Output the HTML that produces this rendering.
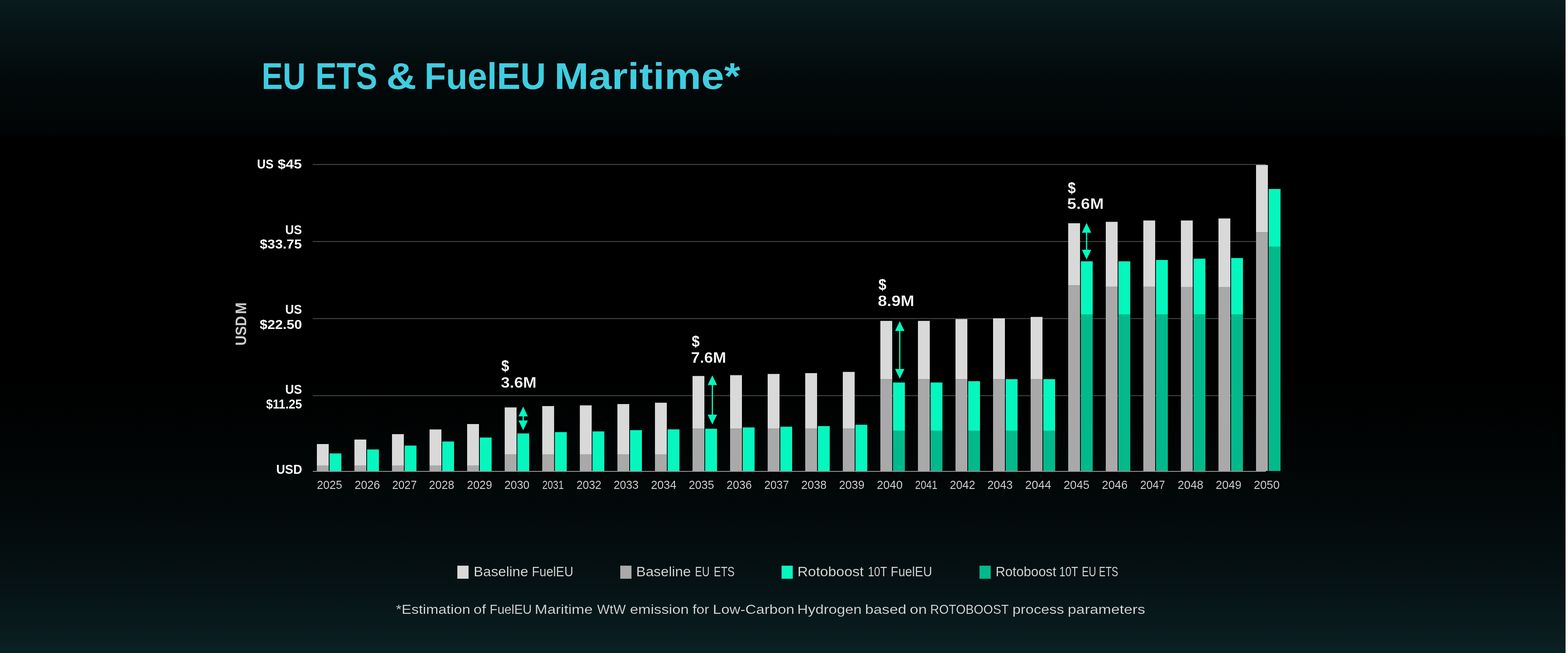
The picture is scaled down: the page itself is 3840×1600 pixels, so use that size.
<!DOCTYPE html>
<html lang="en">
<head>
<meta charset="utf-8">
<title>EU ETS &amp; FuelEU Maritime</title>
<style>
html, body { margin: 0; padding: 0; background: #000; }
body { width: 3840px; height: 1600px; overflow: hidden; position: relative;
       font-family: "Liberation Sans", sans-serif; }
.band-top { position: absolute; left: 0; top: 0; width: 3840px; height: 332px;
            background: linear-gradient(180deg, rgb(8,27,30) 0px, rgb(6,20,22) 75px, rgb(3,10,11) 186px, rgb(1,4,5) 332px); }
.band-main { position: absolute; left: 0; top: 332px; width: 3840px; height: 1268px;
             background: linear-gradient(180deg, #000 0px, #000 600px, rgb(2,7,8) 871px, rgb(5,16,18) 1065px, rgb(9,27,30) 1214px, rgb(10,33,35) 1268px); }
.edge { position: absolute; left: 3834px; top: 0; width: 6px; height: 1600px; background: #fff; }
svg { position: absolute; left: 0; top: 0; display: block; }
svg text { font-family: "Liberation Sans", sans-serif; }
</style>
</head>
<body>
<div class="band-top"></div>
<div class="band-main"></div>
<div class="edge"></div>
<svg width="3840" height="1600" viewBox="0 0 3840 1600" role="img" aria-label="EU ETS and FuelEU Maritime cost chart">
<g class="title" fill="#40cde0" font-size="91.5" font-weight="700">
  <text><tspan x="640.71" y="218" textLength="107.72" lengthAdjust="spacingAndGlyphs">EU</tspan> <tspan x="772.44" y="218" textLength="151.44" lengthAdjust="spacingAndGlyphs">ETS</tspan> <tspan x="945.91" y="218" textLength="73.87" lengthAdjust="spacingAndGlyphs">&amp;</tspan> <tspan x="1039.39" y="218" textLength="297.55" lengthAdjust="spacingAndGlyphs">FuelEU</tspan> <tspan x="1357.42" y="218" textLength="455.49" lengthAdjust="spacingAndGlyphs">Maritime*</tspan></text>
</g>
<g class="grid" fill="#4d4d4d">
  <rect x="766" y="402" width="2334" height="2"/>
  <rect x="766" y="590.8" width="2334" height="2"/>
  <rect x="766" y="779.6" width="2334" height="2"/>
  <rect x="766" y="968.4" width="2334" height="2"/>
</g>
<g class="baseline-fueleu" fill="#d9d9d9">
  <rect x="776" y="1088" width="29" height="53.3"/>
  <rect x="868" y="1077" width="29" height="64.3"/>
  <rect x="960" y="1063.75" width="29" height="77.55"/>
  <rect x="1052" y="1052.25" width="29" height="89.05"/>
  <rect x="1144" y="1039" width="29" height="102.3"/>
  <rect x="1236" y="998.25" width="29" height="114.75"/>
  <rect x="1328" y="995" width="29" height="118"/>
  <rect x="1420" y="993.25" width="29" height="119.75"/>
  <rect x="1512" y="990" width="29" height="123"/>
  <rect x="1604" y="986.75" width="29" height="126.25"/>
  <rect x="1696" y="921.25" width="29" height="129.25"/>
  <rect x="1788" y="919.25" width="29" height="131.25"/>
  <rect x="1880" y="916.25" width="29" height="134.25"/>
  <rect x="1972" y="914.25" width="29" height="136.25"/>
  <rect x="2064" y="911.25" width="29" height="139.25"/>
  <rect x="2156" y="786.25" width="29" height="143"/>
  <rect x="2248" y="786.25" width="29" height="143"/>
  <rect x="2340" y="781.75" width="29" height="147.5"/>
  <rect x="2432" y="780" width="29" height="149.25"/>
  <rect x="2524" y="776.5" width="29" height="152.75"/>
  <rect x="2616" y="547" width="29" height="152.25"/>
  <rect x="2708" y="543.5" width="29" height="158.5"/>
  <rect x="2800" y="540.25" width="29" height="161.75"/>
  <rect x="2892" y="540.25" width="29" height="162.75"/>
  <rect x="2984" y="535.25" width="29" height="167.75"/>
  <rect x="3076" y="404.25" width="29" height="165"/>
</g>
<g class="baseline-ets" fill="#a9a9a9">
  <rect x="776" y="1140.3" width="29" height="13.7"/>
  <rect x="868" y="1140.3" width="29" height="13.7"/>
  <rect x="960" y="1140.3" width="29" height="13.7"/>
  <rect x="1052" y="1140.3" width="29" height="13.7"/>
  <rect x="1144" y="1140.3" width="29" height="13.7"/>
  <rect x="1236" y="1113" width="29" height="41"/>
  <rect x="1328" y="1113" width="29" height="41"/>
  <rect x="1420" y="1113" width="29" height="41"/>
  <rect x="1512" y="1113" width="29" height="41"/>
  <rect x="1604" y="1113" width="29" height="41"/>
  <rect x="1696" y="1050.5" width="29" height="103.5"/>
  <rect x="1788" y="1050.5" width="29" height="103.5"/>
  <rect x="1880" y="1050.5" width="29" height="103.5"/>
  <rect x="1972" y="1050.5" width="29" height="103.5"/>
  <rect x="2064" y="1050.5" width="29" height="103.5"/>
  <rect x="2156" y="929.25" width="29" height="224.75"/>
  <rect x="2248" y="929.25" width="29" height="224.75"/>
  <rect x="2340" y="929.25" width="29" height="224.75"/>
  <rect x="2432" y="929.25" width="29" height="224.75"/>
  <rect x="2524" y="929.25" width="29" height="224.75"/>
  <rect x="2616" y="699.25" width="29" height="454.75"/>
  <rect x="2708" y="702" width="29" height="452"/>
  <rect x="2800" y="702" width="29" height="452"/>
  <rect x="2892" y="703" width="29" height="451"/>
  <rect x="2984" y="703" width="29" height="451"/>
  <rect x="3076" y="569.25" width="29" height="584.75"/>
</g>
<g class="roto-fueleu" fill="#06f7be">
  <rect x="807" y="1111" width="29" height="43"/>
  <rect x="899" y="1101.25" width="29" height="52.75"/>
  <rect x="991" y="1091.75" width="29" height="62.25"/>
  <rect x="1083" y="1081.75" width="29" height="72.25"/>
  <rect x="1175" y="1072" width="29" height="82"/>
  <rect x="1267" y="1062" width="29" height="92"/>
  <rect x="1359" y="1058.75" width="29" height="95.25"/>
  <rect x="1451" y="1057" width="29" height="97"/>
  <rect x="1543" y="1054" width="29" height="100"/>
  <rect x="1635" y="1052" width="29" height="102"/>
  <rect x="1727" y="1050.5" width="29" height="103.5"/>
  <rect x="1819" y="1047.25" width="29" height="106.75"/>
  <rect x="1911" y="1045.5" width="29" height="108.5"/>
  <rect x="2003" y="1044" width="29" height="110"/>
  <rect x="2095" y="1040.75" width="29" height="113.25"/>
  <rect x="2187" y="937.25" width="29" height="117.75"/>
  <rect x="2279" y="937.25" width="29" height="117.75"/>
  <rect x="2371" y="934" width="29" height="121"/>
  <rect x="2463" y="929" width="29" height="126"/>
  <rect x="2555" y="929" width="29" height="126"/>
  <rect x="2647" y="640.25" width="29" height="129.75"/>
  <rect x="2739" y="640.25" width="29" height="129.75"/>
  <rect x="2831" y="637" width="29" height="133"/>
  <rect x="2923" y="633.75" width="29" height="136.25"/>
  <rect x="3015" y="632.25" width="29" height="137.75"/>
  <rect x="3107" y="463" width="29" height="141"/>
</g>
<g class="roto-ets" fill="#03b98b">
  <rect x="2187" y="1055" width="29" height="99"/>
  <rect x="2279" y="1055" width="29" height="99"/>
  <rect x="2371" y="1055" width="29" height="99"/>
  <rect x="2463" y="1055" width="29" height="99"/>
  <rect x="2555" y="1055" width="29" height="99"/>
  <rect x="2647" y="770" width="29" height="384"/>
  <rect x="2739" y="770" width="29" height="384"/>
  <rect x="2831" y="770" width="29" height="384"/>
  <rect x="2923" y="770" width="29" height="384"/>
  <rect x="3015" y="770" width="29" height="384"/>
  <rect x="3107" y="604" width="29" height="550"/>
</g>
<rect class="axis" x="766" y="1154" width="2334" height="2" fill="#9a9a9a"/>
<g class="arrows" fill="#06f7be">
  <path d="M1281.25 996.25L1292.75 1020.25H1282.75V1030.25H1292.75L1281.25 1054.25L1269.75 1030.25H1279.75V1020.25H1269.75Z"/>
  <path d="M1744.5 919.5L1756 943.5H1746V1016H1756L1744.5 1040L1733 1016H1743V943.5H1733Z"/>
  <path d="M2203.5 787L2215 811H2205V904H2215L2203.5 928L2192 904H2202V811H2192Z"/>
  <path d="M2661 546.25L2672.5 570.25H2662.5V612H2672.5L2661 636L2649.5 612H2659.5V570.25H2649.5Z"/>
</g>
<g class="ytitle" fill="#cbcbcb"><text transform="translate(603.3 846.65) rotate(-90) scale(0.9487 1)" font-size="36.1" font-weight="700" word-spacing="-5">USD M</text></g>
<g class="yaxis" fill="#ffffff" font-size="31" font-weight="700">
  <text><tspan x="629.45" y="413.25" textLength="40.42" lengthAdjust="spacingAndGlyphs">US</tspan> <tspan x="679.95" y="413.25" textLength="59.18" lengthAdjust="spacingAndGlyphs">$45</tspan></text>
  <text><tspan x="698.43" y="573.75" textLength="40.96" lengthAdjust="spacingAndGlyphs">US</tspan> <tspan x="636.36" y="609.25" textLength="102.82" lengthAdjust="spacingAndGlyphs">$33.75</tspan></text>
  <text><tspan x="698.43" y="769.25" textLength="40.96" lengthAdjust="spacingAndGlyphs">US</tspan> <tspan x="636.11" y="805.5" textLength="103.41" lengthAdjust="spacingAndGlyphs">$22.50</tspan></text>
  <text><tspan x="698.42" y="965" textLength="41.23" lengthAdjust="spacingAndGlyphs">US</tspan> <tspan x="651.66" y="1001.25" textLength="87.91" lengthAdjust="spacingAndGlyphs">$11.25</tspan></text>
  <text><tspan x="676.39" y="1161.25" textLength="63.52" lengthAdjust="spacingAndGlyphs">USD</tspan></text>
</g>
<g class="xaxis" fill="#d9d9d9" font-size="29.6" stroke="#020607" stroke-width="0.2">
  <text><tspan x="775.95" y="1198" textLength="62.2" lengthAdjust="spacingAndGlyphs">2025</tspan></text>
  <text><tspan x="868.45" y="1198" textLength="62.2" lengthAdjust="spacingAndGlyphs">2026</tspan></text>
  <text><tspan x="960.5" y="1198" textLength="60.25" lengthAdjust="spacingAndGlyphs">2027</tspan></text>
  <text><tspan x="1050.46" y="1198" textLength="61.94" lengthAdjust="spacingAndGlyphs">2028</tspan></text>
  <text><tspan x="1143.46" y="1198" textLength="61.82" lengthAdjust="spacingAndGlyphs">2029</tspan></text>
  <text><tspan x="1235.22" y="1198" textLength="61.53" lengthAdjust="spacingAndGlyphs">2030</tspan></text>
  <text><tspan x="1327.92" y="1198" textLength="52.68" lengthAdjust="spacingAndGlyphs">2031</tspan></text>
  <text><tspan x="1411.73" y="1198" textLength="61.04" lengthAdjust="spacingAndGlyphs">2032</tspan></text>
  <text><tspan x="1502.73" y="1198" textLength="61.16" lengthAdjust="spacingAndGlyphs">2033</tspan></text>
  <text><tspan x="1594.2" y="1198" textLength="62.28" lengthAdjust="spacingAndGlyphs">2034</tspan></text>
  <text><tspan x="1686.71" y="1198" textLength="61.94" lengthAdjust="spacingAndGlyphs">2035</tspan></text>
  <text><tspan x="1779.21" y="1198" textLength="61.94" lengthAdjust="spacingAndGlyphs">2036</tspan></text>
  <text><tspan x="1871.75" y="1198" textLength="60.25" lengthAdjust="spacingAndGlyphs">2037</tspan></text>
  <text><tspan x="1962.2" y="1198" textLength="62.2" lengthAdjust="spacingAndGlyphs">2038</tspan></text>
  <text><tspan x="2054.7" y="1198" textLength="62.34" lengthAdjust="spacingAndGlyphs">2039</tspan></text>
  <text><tspan x="2147.18" y="1198" textLength="63.35" lengthAdjust="spacingAndGlyphs">2040</tspan></text>
  <text><tspan x="2241.12" y="1198" textLength="54.51" lengthAdjust="spacingAndGlyphs">2041</tspan></text>
  <text><tspan x="2325.95" y="1198" textLength="62.34" lengthAdjust="spacingAndGlyphs">2042</tspan></text>
  <text><tspan x="2417.95" y="1198" textLength="62.2" lengthAdjust="spacingAndGlyphs">2043</tspan></text>
  <text><tspan x="2510.41" y="1198" textLength="64.09" lengthAdjust="spacingAndGlyphs">2044</tspan></text>
  <text><tspan x="2604.67" y="1198" textLength="63.5" lengthAdjust="spacingAndGlyphs">2045</tspan></text>
  <text><tspan x="2698.43" y="1198" textLength="62.98" lengthAdjust="spacingAndGlyphs">2046</tspan></text>
  <text><tspan x="2792.23" y="1198" textLength="61.04" lengthAdjust="spacingAndGlyphs">2047</tspan></text>
  <text><tspan x="2883.93" y="1198" textLength="62.98" lengthAdjust="spacingAndGlyphs">2048</tspan></text>
  <text><tspan x="2977.18" y="1198" textLength="63.13" lengthAdjust="spacingAndGlyphs">2049</tspan></text>
  <text><tspan x="3070.43" y="1198" textLength="63.35" lengthAdjust="spacingAndGlyphs">2050</tspan></text>
</g>
<g class="anno" fill="#ffffff" font-size="36.5" font-weight="700" stroke="#000" stroke-width="0.3">
  <text><tspan x="1227.6" y="909.2" textLength="19.49" lengthAdjust="spacingAndGlyphs" stroke="none">$</tspan> <tspan x="1226.41" y="949.7" textLength="87.52" lengthAdjust="spacingAndGlyphs">3.6M</tspan></text>
  <text><tspan x="1694.1" y="849.4" textLength="19.49" lengthAdjust="spacingAndGlyphs" stroke="none">$</tspan> <tspan x="1692.15" y="889" textLength="86.25" lengthAdjust="spacingAndGlyphs">7.6M</tspan></text>
  <text><tspan x="2151.35" y="710" textLength="19.49" lengthAdjust="spacingAndGlyphs" stroke="none">$</tspan> <tspan x="2149.75" y="750" textLength="89.23" lengthAdjust="spacingAndGlyphs">8.9M</tspan></text>
  <text><tspan x="2615.1" y="472.5" textLength="19.49" lengthAdjust="spacingAndGlyphs" stroke="none">$</tspan> <tspan x="2613.49" y="512.2" textLength="89.49" lengthAdjust="spacingAndGlyphs">5.6M</tspan></text>
</g>
<g class="legend-keys">
  <rect x="1120" y="1386" width="27.5" height="32" fill="#d9d9d9"/>
  <rect x="1519" y="1386" width="27.5" height="32" fill="#a9a9a9"/>
  <rect x="1914" y="1386" width="27.5" height="32" fill="#06f7be"/>
  <rect x="2398.75" y="1386" width="27.5" height="32" fill="#03b98b"/>
</g>
<g class="legend" fill="#d9d9d9" font-size="32.6" stroke="#051012" stroke-width="0.15">
  <text><tspan x="1160.12" y="1412" textLength="133.41" lengthAdjust="spacingAndGlyphs">Baseline</tspan> <tspan x="1302.47" y="1412" textLength="101.38" lengthAdjust="spacingAndGlyphs">FuelEU</tspan></text>
  <text><tspan x="1558.11" y="1412" textLength="133.93" lengthAdjust="spacingAndGlyphs">Baseline</tspan> <tspan x="1702.04" y="1412" textLength="35.74" lengthAdjust="spacingAndGlyphs">EU</tspan> <tspan x="1748" y="1412" textLength="51.11" lengthAdjust="spacingAndGlyphs">ETS</tspan></text>
  <text><tspan x="1952.95" y="1412" textLength="162.15" lengthAdjust="spacingAndGlyphs">Rotoboost</tspan> <tspan x="2125.48" y="1412" textLength="46.33" lengthAdjust="spacingAndGlyphs">10T</tspan> <tspan x="2181.37" y="1412" textLength="101.27" lengthAdjust="spacingAndGlyphs">FuelEU</tspan></text>
  <text><tspan x="2438.19" y="1412" textLength="148.5" lengthAdjust="spacingAndGlyphs">Rotoboost</tspan> <tspan x="2594.01" y="1412" textLength="45.8" lengthAdjust="spacingAndGlyphs">10T</tspan> <tspan x="2649.49" y="1412" textLength="34.95" lengthAdjust="spacingAndGlyphs">EU</tspan> <tspan x="2691.36" y="1412" textLength="47.16" lengthAdjust="spacingAndGlyphs">ETS</tspan></text>
</g>
<g class="foot" fill="#d9d9d9" font-size="32" stroke="#07181a" stroke-width="0.2">
  <text><tspan x="969.46" y="1504" textLength="182.24" lengthAdjust="spacingAndGlyphs">*Estimation</tspan> <tspan x="1159.81" y="1504" textLength="30.12" lengthAdjust="spacingAndGlyphs">of</tspan> <tspan x="1199.28" y="1504" textLength="103.11" lengthAdjust="spacingAndGlyphs">FuelEU</tspan> <tspan x="1309.54" y="1504" textLength="141.99" lengthAdjust="spacingAndGlyphs">Maritime</tspan> <tspan x="1462.5" y="1504" textLength="69.96" lengthAdjust="spacingAndGlyphs">WtW</tspan> <tspan x="1542.79" y="1504" textLength="143.94" lengthAdjust="spacingAndGlyphs">emission</tspan> <tspan x="1695.9" y="1504" textLength="40.86" lengthAdjust="spacingAndGlyphs">for</tspan> <tspan x="1745.87" y="1504" textLength="199.62" lengthAdjust="spacingAndGlyphs">Low-Carbon</tspan> <tspan x="1952.59" y="1504" textLength="157.63" lengthAdjust="spacingAndGlyphs">Hydrogen</tspan> <tspan x="2118.52" y="1504" textLength="101.25" lengthAdjust="spacingAndGlyphs">based</tspan> <tspan x="2228" y="1504" textLength="41.8" lengthAdjust="spacingAndGlyphs">on</tspan> <tspan x="2278.09" y="1504" textLength="191.79" lengthAdjust="spacingAndGlyphs">ROTOBOOST</tspan> <tspan x="2479.59" y="1504" textLength="126.17" lengthAdjust="spacingAndGlyphs">process</tspan> <tspan x="2614.75" y="1504" textLength="189.82" lengthAdjust="spacingAndGlyphs">parameters</tspan></text>
</g>
</svg>
</body>
</html>
